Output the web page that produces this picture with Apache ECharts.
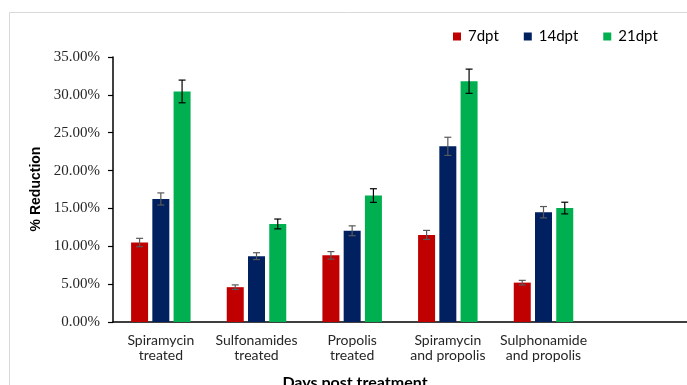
<!DOCTYPE html>
<html><head><meta charset="utf-8">
<script src="https://cdn.jsdelivr.net/npm/echarts@6/dist/echarts.min.js"></script>
<style>html,body{margin:0;padding:0;background:#fff}#c{width:687px;height:385px}</style>
</head><body><div id="c"></div>
<script>
const categories = ['Spiramycin\ntreated','Sulfonamides\ntreated','Propolis\ntreated','Spiramycin\nand propolis','Sulphonamide\nand propolis',''];
const seriesNames = ['7dpt','14dpt','21dpt'];
const d7  = [10.5, 4.6, 8.8, 11.5, 5.2];
const d14 = [16.25, 8.7, 12.05, 23.2, 14.5];
const d21 = [30.45, 12.95, 16.7, 31.8, 15.05];
const e7  = [0.55, 0.3, 0.5, 0.6, 0.3];
const e14 = [0.8, 0.45, 0.65, 1.2, 0.75];
const e21 = [1.5, 0.65, 0.9, 1.6, 0.77];
const yTicks = ['0.00%','5.00%','10.00%','15.00%','20.00%','25.00%','30.00%','35.00%'];

const colors = ['#C00000','#002060','#00B050'];
const errColors = ['#595959','#595959','#000000'];
const BW = 17, GAP = 0.25;
const values = [d7, d14, d21];
const errs = [e7, e14, e21];

const chart = echarts.init(document.getElementById('c'));
const series = [];
values.forEach((v, i) => {
  series.push({
    name: seriesNames[i], type: 'bar', data: v, barWidth: BW, barGap: (GAP*100)+'%',
    itemStyle: {color: colors[i]}, z: 2
  });
});
values.forEach((v, i) => {
  series.push({
    type: 'custom', silent: true, z: 5,
    data: v.map((val, k) => [k, val, errs[i][k]]),
    renderItem: function (params, api) {
      const k = api.value(0), val = api.value(1), e = api.value(2);
      const c = api.coord([k, val]);
      const x = c[0] + (i - 1) * (BW + BW * GAP);
      const top = api.coord([k, val + e])[1];
      const bot = api.coord([k, val - e])[1];
      const st = {stroke: errColors[i], lineWidth: 1.2};
      const cw = 3.5;
      return {type: 'group', children: [
        {type: 'line', shape: {x1: x, y1: top, x2: x, y2: bot}, style: st},
        {type: 'line', shape: {x1: x - cw, y1: top, x2: x + cw, y2: top}, style: st},
        {type: 'line', shape: {x1: x - cw, y1: bot, x2: x + cw, y2: bot}, style: st}
      ]};
    }
  });
});

chart.setOption({
  animation: false,
  backgroundColor: '#fff',
  grid: {left: 113, right: 0, top: 57, bottom: 63},
  legend: {
    data: seriesNames, left: 448, top: 24, itemWidth: 8, itemHeight: 8, itemGap: 25,
    icon: 'rect',
    textStyle: {fontFamily: 'Lato', fontSize: 15, color: '#000', padding: [0, 0, 0, 2]}
  },
  xAxis: {
    type: 'category', data: categories,
    axisLine: {lineStyle: {color: '#000', width: 1.5}},
    axisTick: {alignWithLabel: true, length: 5, lineStyle: {color: '#000', width: 1.2}},
    axisLabel: {interval: 0, margin: 11, fontFamily: 'Lato', fontSize: 14, color: '#262626', lineHeight: 15}
  },
  yAxis: {
    type: 'value', min: 0, max: 35, interval: 5,
    axisLine: {show: true, lineStyle: {color: '#000', width: 1.5}},
    axisTick: {show: true, length: 5, lineStyle: {color: '#000', width: 1.2}},
    splitLine: {show: false},
    axisLabel: {margin: 13, fontFamily: 'Liberation Serif', fontSize: 15, color: '#262626',
      formatter: (v) => yTicks[Math.round(v / 5)]}
  },
  graphic: [
    {type: 'rect', shape: {x: 9.5, y: 12.5, width: 700, height: 400}, style: {fill: 'none', stroke: '#d9d9d9', lineWidth: 1}, z: -1},
    {type: 'text', x: 36, y: 189, rotation: Math.PI / 2,
      style: {text: '% Reduction', fontFamily: 'Liberation Sans', fontWeight: 'bold', fontSize: 14, fill: '#000', align: 'center', verticalAlign: 'middle'}},
    {type: 'text', x: 355, y: 375,
      style: {text: 'Days post treatment', fontFamily: 'Lato', fontWeight: 'bold', fontSize: 16, fill: '#000', align: 'center', verticalAlign: 'top'}}
  ],
  series: series
});
</script></body></html>
